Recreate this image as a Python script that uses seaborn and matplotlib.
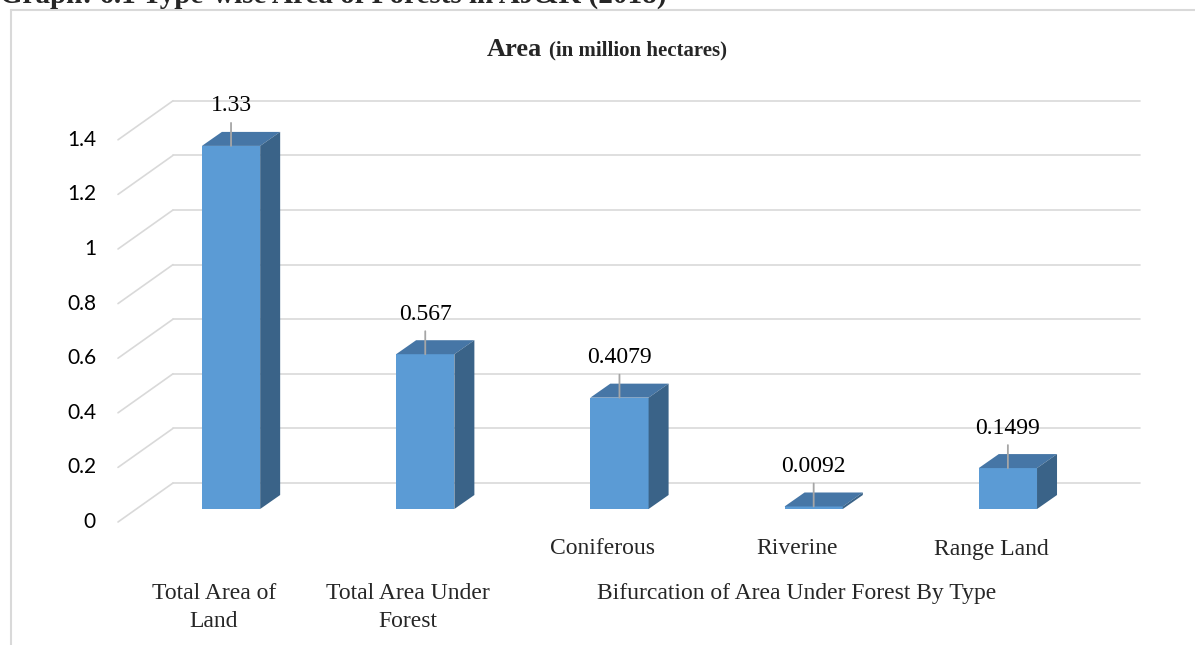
import matplotlib
matplotlib.use("Agg")
import matplotlib.pyplot as plt
import matplotlib.transforms as mtransforms
from matplotlib.patches import Polygon
from matplotlib.lines import Line2D
import seaborn as sns

# data
categories = ["Total Area of Land", "Total Area Under Forest", "Coniferous", "Riverine", "Range Land"]
values = [1.33, 0.567, 0.4079, 0.0092, 0.1499]
value_labels = ["1.33", "0.567", "0.4079", "0.0092", "0.1499"]
inner_labels = ["", "", "Coniferous", "Riverine", "Range Land"]
outer_labels = ["Total Area of\nLand", "Total Area Under\nForest", "Bifurcation of Area Under Forest By Type"]
outer_pos = [0, 1, 3]
y_ticks = [0, 0.2, 0.4, 0.6, 0.8, 1, 1.2, 1.4]
y_tick_labels = ["0", "0.2", "0.4", "0.6", "0.8", "1", "1.2", "1.4"]

sns.set_theme(style="white")
plt.rcParams["font.family"] = ["Liberation Serif", "DejaVu Serif"]

W, H = 1195, 645
fig = plt.figure(figsize=(W / 100, H / 100), dpi=100)

# plot box in pixels
left_px, right_px, base_px = 118, 1105, 136
px_per_unit = 273
ymax = 1.5
ax = fig.add_axes([left_px / W, base_px / H, (right_px - left_px) / W, ymax * px_per_unit / H])

front = "#5B9BD5"
top_c = "#4676A6"
side_c = "#3A6388"
grid_c = "#D9D9D9"

sns.barplot(x=categories, y=values, order=categories, color=front, saturation=1,
            width=0.3, linewidth=0, ax=ax, zorder=3)
ax.set_xlim(-0.582, 4.5)
ax.set_ylim(0, ymax)
ax.set_axis_off()

# gridlines: floor diagonal + back wall
ytrans = ax.get_yaxis_transform()
front_off, back_off = -13, 26
back_x0, back_x1 = (173 - left_px) / (right_px - left_px), (1140 - left_px) / (right_px - left_px)
for v, lab in zip(y_ticks, y_tick_labels):
    back = mtransforms.offset_copy(ytrans, fig=fig, x=0, y=back_off, units="dots")
    ax.add_line(Line2D([back_x0, back_x1], [v, v], transform=back, color=grid_c,
                       lw=1.2, clip_on=False, zorder=1))
    y_front = ax.transData.transform((0, v))[1] + front_off
    y_back = ax.transData.transform((0, v))[1] + back_off
    x_front = fig.transFigure.transform((left_px / W, 0))[0]
    x_back = ax.transAxes.transform((back_x0, 0))[0]
    ax.add_line(Line2D([x_front, x_back], [y_front, y_back], transform=mtransforms.IdentityTransform(),
                       color=grid_c, lw=1.2, clip_on=False, zorder=1))
    lab_tr = mtransforms.offset_copy(ytrans, fig=fig, x=-22, y=front_off, units="dots")
    ax.text(0, v, lab, transform=lab_tr, ha="right", va="center", fontsize=15,
            family=["Lato", "DejaVu Sans"], color="#000000")

# 3d depth of bars, in data units
dx_px, dy_px = 20, 14
x_unit = ax.transData.transform((1, 0))[0] - ax.transData.transform((0, 0))[0]
dx = dx_px / x_unit
dy = dy_px / px_per_unit

for i, p in enumerate(ax.patches):
    x0 = p.get_x()
    x1 = x0 + p.get_width()
    h = p.get_height()
    ax.add_patch(Polygon([(x0, h), (x1, h), (x1 + dx, h + dy), (x0 + dx, h + dy)],
                         closed=True, facecolor=top_c, edgecolor="none", zorder=3, clip_on=False))
    ax.add_patch(Polygon([(x1, 0), (x1, h), (x1 + dx, h + dy), (x1 + dx, dy)],
                         closed=True, facecolor=side_c, edgecolor="none", zorder=3, clip_on=False))
    xc = x0 + p.get_width() / 2
    # leader line + data label
    ax.annotate("", xy=(xc, h), xytext=(0, 23), textcoords="offset pixels",
                arrowprops=dict(arrowstyle="-", color="#A6A6A6", lw=1.3, shrinkA=0, shrinkB=0),
                zorder=4, annotation_clip=False)
    ax.annotate(value_labels[i], xy=(xc, h), xytext=(0, 40), textcoords="offset pixels",
                ha="center", va="center", fontsize=17, color="#000000", annotation_clip=False)

# category labels
for i, lab in enumerate(inner_labels):
    if lab:
        ax.annotate(lab, xy=(i, 0), xytext=(-17, -40), textcoords="offset pixels",
                    ha="center", va="center", fontsize=17, annotation_clip=False)
for pos, lab in zip(outer_pos, outer_labels):
    ax.annotate(lab, xy=(pos, 0), xytext=(-17, -74), textcoords="offset pixels",
                ha="center", va="top", fontsize=17, linespacing=1.45, annotation_clip=False)

# chart title
fig.text(542 / W, 1 - 50 / H, "Area", ha="right", va="center", fontsize=19, fontweight="bold")
fig.text(549 / W, 1 - 50 / H, "(in million hectares)", ha="left", va="center", fontsize=15,
         fontweight="bold")

# header of the page, cut off at the top
fig.text(0.0, 1 - 3 / H, "Graph: 6.1 Type-wise Area of Forests in AJ&K (2018)", ha="left",
         va="baseline", fontsize=21, fontweight="bold")

# chart frame
fig.add_artist(Line2D([11 / W, 11 / W], [0, 1 - 10 / H], transform=fig.transFigure, color=grid_c, lw=1.5))
fig.add_artist(Line2D([11 / W, 1], [1 - 10 / H, 1 - 10 / H], transform=fig.transFigure, color=grid_c, lw=1.5))

fig.savefig("out.png", dpi=100)
